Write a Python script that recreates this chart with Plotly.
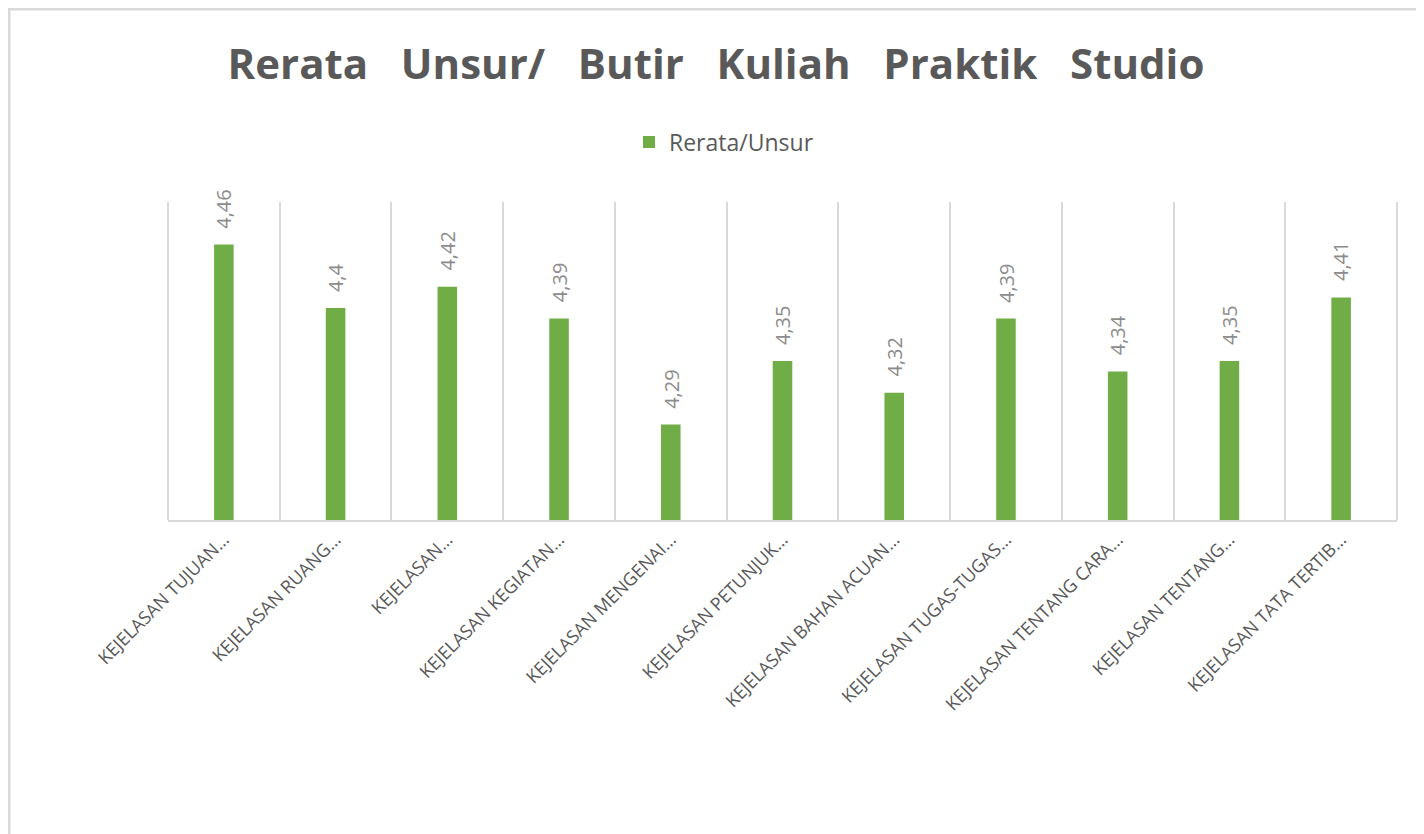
"""Bar chart: Rerata Unsur/ Butir Kuliah Praktik Studio."""

import plotly.graph_objects as go

categories = [
    "KEJELASAN TUJUAN…",
    "KEJELASAN RUANG…",
    "KEJELASAN…",
    "KEJELASAN KEGIATAN…",
    "KEJELASAN MENGENAI…",
    "KEJELASAN PETUNJUK…",
    "KEJELASAN BAHAN ACUAN…",
    "KEJELASAN TUGAS-TUGAS…",
    "KEJELASAN TENTANG CARA…",
    "KEJELASAN TENTANG…",
    "KEJELASAN TATA TERTIB…",
]
rerata = [4.46, 4.40, 4.42, 4.39, 4.29, 4.35, 4.32, 4.39, 4.34, 4.35, 4.41]
labels = [f"{v:g}".replace(".", ",") for v in rerata]

GREEN = "#70ad47"
GRID = "#d9d9d9"

# figure is drawn inside the page body (8px offset), sized to fit the window
FIG_W, FIG_H = 1416, 826
# plot area in figure pixels, used to place frame lines outside the axes
L, R, T, B = 160, 1389, 194, 512
W, H = R - L, B - T


def px_x(x):
    return (x - L) / W


def px_y(y):
    return (B - y) / H


fig = go.Figure()
fig.add_trace(go.Bar(
    x=categories, y=rerata, name="Rerata/Unsur",
    marker=dict(color=GREEN, line=dict(width=0)),
    width=0.175,
))

# value labels, rotated, a little above each bar
for cat, val, lab in zip(categories, rerata, labels):
    fig.add_annotation(
        x=cat, y=val, text=lab, textangle=-90, showarrow=False,
        xanchor="center", yanchor="bottom", yshift=14,
        font=dict(family="Open Sans", size=20, color="#8c8c8c"),
    )

frame = dict(color=GRID, width=3)
fig.update_layout(
    width=FIG_W, height=FIG_H,
    margin=dict(l=L, r=FIG_W - R, t=T, b=FIG_H - B),
    paper_bgcolor="white", plot_bgcolor="white",
    title=dict(
        text="<b>Rerata   Unsur/   Butir   Kuliah   Praktik   Studio</b>",
        x=0.5, xanchor="center", y=0.932, yanchor="middle",
        font=dict(family="Open Sans", size=42, color="#595959"),
    ),
    showlegend=True,
    legend=dict(
        orientation="h", x=px_x(716), xanchor="center", y=px_y(134), yanchor="middle",
        font=dict(family="Open Sans", size=23, color="#595959"),
        itemwidth=30,
    ),
    shapes=[
        dict(type="line", xref="paper", yref="paper",
             x0=px_x(0), x1=px_x(FIG_W + 5), y0=px_y(1), y1=px_y(1), line=frame),
        dict(type="line", xref="paper", yref="paper",
             x0=px_x(1), x1=px_x(1), y0=px_y(0), y1=px_y(FIG_H + 5), line=frame),
        dict(type="line", xref="paper", yref="paper",
             x0=0, x1=0, y0=0, y1=1, line=dict(color=GRID, width=2)),
        dict(type="line", xref="paper", yref="paper",
             x0=1, x1=1, y0=0, y1=1, line=dict(color=GRID, width=2)),
    ],
)

fig.update_xaxes(
    tickson="boundaries", showgrid=True, gridcolor=GRID, gridwidth=2,
    showline=True, linecolor=GRID, linewidth=2,
    ticks="", tickangle=-45,
    tickfont=dict(family="Open Sans", size=18, color="#595959"),
)
fig.update_yaxes(range=[4.2, 4.5], visible=False)

fig.write_html("out.html")
